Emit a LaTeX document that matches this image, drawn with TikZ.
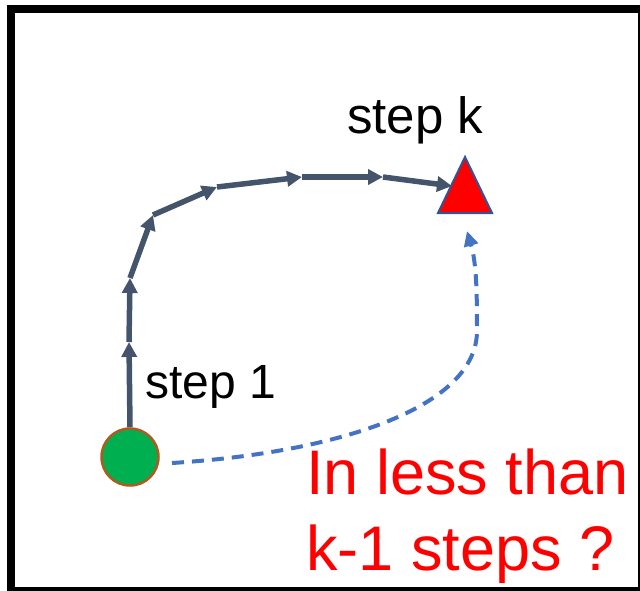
\documentclass[tikz,border=0pt]{standalone}
\usepackage{fontspec}
\setmainfont{Liberation Sans}
\usetikzlibrary{arrows.meta}
\definecolor{pathgray}{HTML}{44546A}
\definecolor{dashblue}{HTML}{4472C4}
\definecolor{circgreen}{HTML}{00B050}
\definecolor{circbrown}{HTML}{AE5A21}
\definecolor{triblue}{HTML}{2F5597}
\begin{document}
\begin{tikzpicture}[x=1pt,y=-1pt,
  stepline/.style={draw=pathgray,line width=5.5pt,-{Triangle[length=15pt,width=15pt]}},
  dashline/.style={draw=dashblue,line width=4pt,dash pattern=on 12pt off 8pt,-{Triangle[length=15pt,width=14pt]}},
  lbl/.style={inner sep=0pt,anchor=base west},
]
\useasboundingbox (0,0) rectangle (640,590);
\draw[line width=8pt] (11,9) rectangle (642,591);

\node[circle,fill=circgreen,draw=circbrown,line width=2.5pt,minimum size=57pt,inner sep=0pt] (start) at (130,457) {};
\draw[fill=red,draw=triblue,line width=2pt] (465,157) -- (492,213) -- (438,213) -- cycle;

\coordinate (p1) at (129,342);
\coordinate (p2) at (130,278);
\coordinate (p3) at (153,215);
\coordinate (p4) at (217,187);
\coordinate (p5) at (302,177);
\coordinate (p6) at (383,177);
\coordinate (p7) at (452,186);
\coordinate (dstart) at (172,463);
\coordinate (dend) at (467,231);

\draw[stepline] (start.north) -- (p1);
\draw[stepline] (p1) -- (p2);
\draw[stepline] (p2) -- (p3);
\draw[stepline] (p3) -- (p4);
\draw[stepline] (p4) -- (p5);
\draw[stepline] (p5) -- (p6);
\draw[stepline] (p6) -- (p7);

\draw[dashline] (dstart) .. controls (345,452) and (478,405) .. (477,330) .. controls (477,285) and (476,262) .. (dend);

\node[lbl,font=\fontsize{51pt}{60pt}\selectfont] (stepk) at (347,133) {step k};
\node[lbl,font=\fontsize{48pt}{56pt}\selectfont] (step1) at (145,398) {step 1};
\node[lbl,text=red,font=\fontsize{63pt}{72pt}\selectfont] (q1) at (306,494) {In less than};
\node[lbl,text=red,font=\fontsize{63pt}{72pt}\selectfont] (q2) at (306,570) {k-1 steps ?};
\end{tikzpicture}
\end{document}
